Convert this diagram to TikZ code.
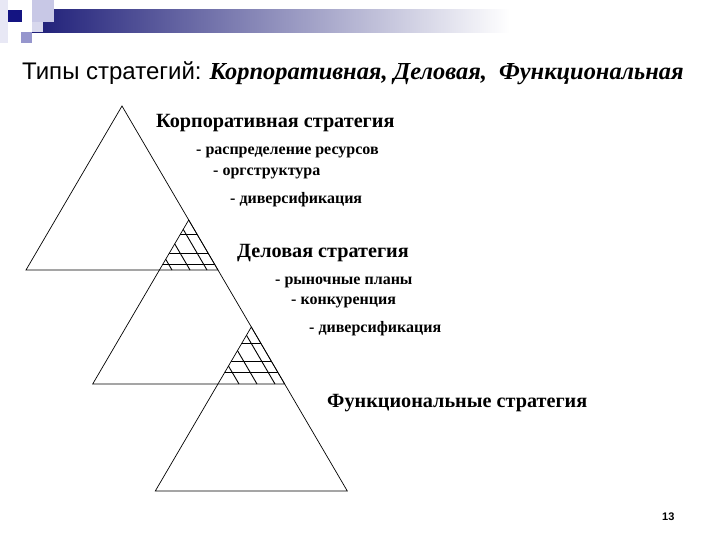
\documentclass[tikz,border=0pt]{standalone}
\usepackage{fontspec}
\setmainfont{Liberation Serif}
\newfontfamily\titlesans{Liberation Sans}
\definecolor{navy}{RGB}{20,20,130}
\definecolor{hdark}{RGB}{30,30,120}
\definecolor{hmid}{RGB}{140,140,175}
\definecolor{lav}{RGB}{200,200,230}
\definecolor{lavmid}{RGB}{150,150,205}
\definecolor{lavpale}{RGB}{232,232,245}
\begin{document}
\begin{tikzpicture}[x=1pt,y=-1pt,
  tri/.style={draw=black, line width=0.7pt},
  hatchline/.style={draw=black, line width=0.9pt},
  headtxt/.style={font=\bfseries\fontsize{20.2}{23}\selectfont, anchor=base west, inner sep=0pt},
  itemtxt/.style={font=\bfseries\fontsize{16}{18}\selectfont, anchor=base west, inner sep=0pt}]
\useasboundingbox (0,0) rectangle (720,540);
% header decoration
\fill[lavpale] (0,0) rectangle (8,43);
\shade[left color=hdark, middle color=hmid, right color=white] (32,10) rectangle (510,33);
\fill[lav] (32,0) rectangle (54,22);
\fill[lav!70] (32,22) rectangle (43,32);
\fill[navy] (8,10) rectangle (22,22);
\fill[lavmid] (21,32) rectangle (32,43);
% title
\node[anchor=base west, inner sep=0pt] (title) at (22,80)
  {{\titlesans\fontsize{24}{28}\selectfont Типы стратегий:}\hspace{8pt}{\bfseries\itshape\fontsize{24.4}{28}\selectfont Корпоративная, Деловая, \ Функциональная}};
% triangles
\coordinate (a1) at (122,106); \coordinate (l1) at (26,270); \coordinate (r1) at (218,270);
\coordinate (a2) at (188.7,220); \coordinate (l2) at (92.7,384); \coordinate (r2) at (284.7,384);
\coordinate (a3) at (251.3,327); \coordinate (l3) at (155.3,491); \coordinate (r3) at (347.3,491);
\draw[tri] (a1) -- (l1) -- (r1) -- cycle;
\draw[tri] (a2) -- (l2) -- (r2) -- cycle;
\draw[tri] (a3) -- (l3) -- (r3) -- cycle;
% hatch 1
\begin{scope}
\clip (188.7,220) -- (159.45,270) -- (217.95,270) -- cycle;
\foreach \yy in {234,253,264} \draw[hatchline] (100,\yy) -- (300,\yy);
\foreach \xx in {172,190,207} \draw[hatchline] (\xx,270) -- ++(-58.5,-100);
\end{scope}
% hatch 2
\begin{scope}
\clip (251.3,327) -- (217.955,384) -- (284.645,384) -- cycle;
\foreach \yy in {343,361,372} \draw[hatchline] (150,\yy) -- (350,\yy);
\foreach \xx in {239,257,275} \draw[hatchline] (\xx,384) -- ++(-58.5,-100);
\end{scope}
% texts
\node[headtxt] (corp) at (156,128) {Корпоративная стратегия};
\node[itemtxt] (c1) at (196,155) {- распределение ресурсов};
\node[itemtxt] (c2) at (213,176) {- оргструктура};
\node[itemtxt] (c3) at (230,204) {- диверсификация};
\node[headtxt] (bus) at (237,257) {Деловая стратегия};
\node[itemtxt] (b1) at (275,284) {- рыночные планы};
\node[itemtxt] (b2) at (291,304) {- конкуренция};
\node[itemtxt] (b3) at (309,332) {- диверсификация};
\node[headtxt] (func) at (327,407) {Функциональные стратегия};
\node[anchor=base west, inner sep=0pt, font=\titlesans\bfseries\fontsize{11}{13}\selectfont] (pg) at (662,520) {13};
\end{tikzpicture}
\end{document}
